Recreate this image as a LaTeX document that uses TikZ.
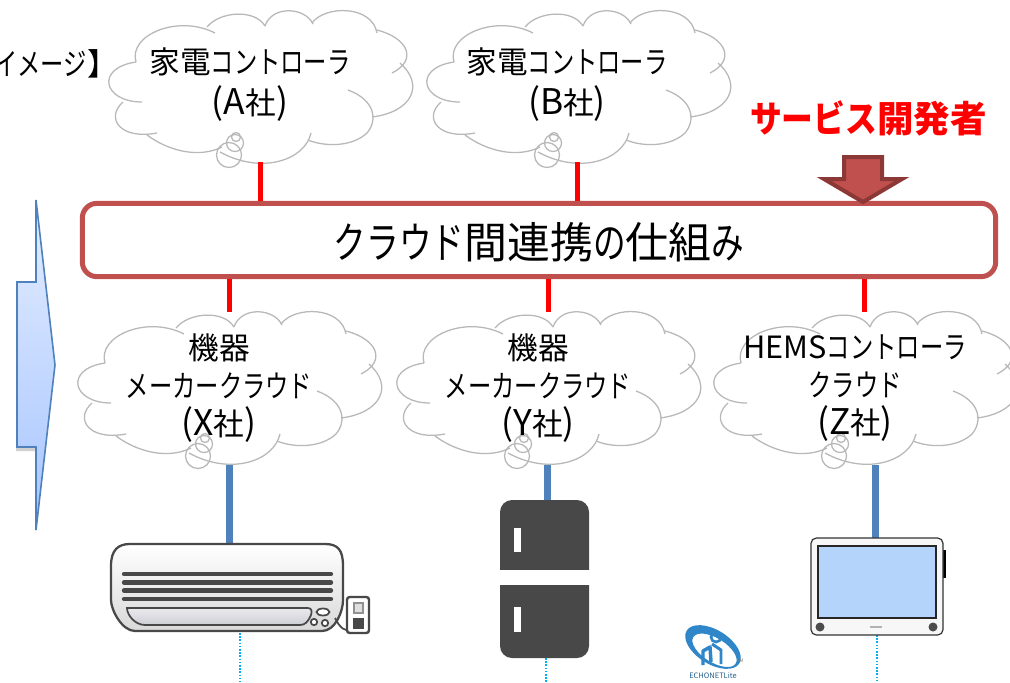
\documentclass[tikz,border=0pt]{standalone}
\usepackage{fontspec}
\setmainfont{Noto Sans CJK JP}
\newfontfamily\kn[FakeStretch=0.76]{Noto Sans CJK JP}
\newfontfamily\knr[FakeStretch=0.87]{Noto Sans CJK JP}
\newcommand{\latn}[1]{{\fontsize{26.5}{28}\selectfont #1}}
\usetikzlibrary{calc}
\definecolor{boxred}{HTML}{C0504D}
\definecolor{darkred}{HTML}{8C3836}
\definecolor{linkblue}{HTML}{4F81BD}
\definecolor{cloudgrey}{HTML}{B8B8B8}
\definecolor{dotblue}{HTML}{00B0F0}
\definecolor{appdark}{HTML}{484848}
\definecolor{logoblue}{HTML}{2F86C8}
\definecolor{arrowtop}{HTML}{E4EDFF}
\definecolor{arrowbot}{HTML}{A6C5FF}
\definecolor{screenblue}{HTML}{B4D4FC}
\tikzset{
  cloudline/.style={draw=cloudgrey,line width=0.95pt,fill=none},
  redlink/.style={draw=red,line width=3.75pt},
  bluelink/.style={draw=linkblue,line width=5.25pt},
  dotlink/.style={draw=dotblue,line width=1.2pt,dash pattern=on 1.2pt off 1.2pt},
  ctext/.style={font=\fontsize{23}{30.75}\selectfont,align=center,text=black,inner sep=0pt},
  ltext/.style={font=\fontsize{23}{28.5}\selectfont,align=center,text=black,inner sep=0pt},
  appline/.style={draw=appdark,line width=1.7pt},
  cloudshape/.pic={
    \path[fill=white] (136,62) .. controls (150,30) and (250,0) .. (313,24) .. controls (370,5) and (420,60) .. (412,95)
      .. controls (410,120) and (380,130) .. (371,120) .. controls (350,150) and (300,170) .. (260,162)
      .. controls (220,165) and (170,150) .. (150,134) .. controls (110,130) and (115,105) .. (122,100)
      .. controls (100,90) and (105,65) .. (136,62) -- cycle;
    \path[cloudline] (136,62) .. controls (128,35) and (178,14) .. (215,33);
    \path[cloudline] (207,27) .. controls (220,11) and (255,9) .. (265,26);
    \path[cloudline] (265,26) .. controls (272,5) and (305,7) .. (313,24);
    \path[cloudline] (312,23) .. controls (325,5) and (372,5) .. (377,33);
    \path[cloudline] (377,30) .. controls (408,38) and (418,60) .. (392,73);
    \path[cloudline] (400,63) .. controls (425,85) and (412,112) .. (372,117);
    \path[cloudline] (348,90) .. controls (375,100) and (378,120) .. (367,133) .. controls (352,147) and (325,147) .. (308,140);
    \path[cloudline] (311,133) .. controls (305,160) and (262,175) .. (220,152);
    \path[cloudline] (147,135) .. controls (170,152) and (200,158) .. (222,147);
    \path[cloudline] (157,133) .. controls (120,140) and (105,118) .. (123,102);
    \path[cloudline] (142,102) .. controls (103,102) and (95,68) .. (136,62);
    \path[cloudline] (229,155) circle[radius=12.5];
    \path[cloudline] (235,143) circle[radius=8.5];
    \path[cloudline] (236,137) circle[radius=4.5];
  }
}
\begin{document}
\begin{tikzpicture}[x=0.75pt,y=-0.75pt]
\useasboundingbox (0,0) rectangle (1010,682);
\fill[white] (0,0) rectangle (1010,682);

% left block arrow
\fill[black,opacity=0.18]
  (35,204) -- (54,369) -- (35,534) -- (35,451) -- (16,451) -- (16,286) -- (35,286) -- cycle;
\shade[top color=arrowtop,bottom color=arrowbot,draw=none]
  (36,200) -- (55,365) -- (36,530) -- (36,447) -- (17,447) -- (17,282) -- (36,282) -- cycle;
\draw[draw=linkblue,line width=1.2pt,line join=miter]
  (36,200) -- (55,365) -- (36,530) -- (36,447) -- (17,447) -- (17,282) -- (36,282) -- cycle;

\node[ctext,anchor=east] (caption) at (118,64) {{\kn イメージ}】};

% clouds
\pic at (0,0) {cloudshape};
\pic at (318,0) {cloudshape};
\pic at (-31,301) {cloudshape};
\pic at (288,301) {cloudshape};
\pic at (605,301) {cloudshape};

\node[ctext] (cA) at (250,85) {家電{\kn コントローラ}\\\latn{(A}社\latn{)}};
\node[ctext] (cB) at (567,85) {家電{\kn コントローラ}\\\latn{(B}社\latn{)}};
\node[ltext] (cX) at (219,388) {機器\\{\kn メーカークラウド}\\\latn{(X}社\latn{)}};
\node[ltext] (cY) at (538,388) {機器\\{\kn メーカークラウド}\\\latn{(Y}社\latn{)}};
\node[ltext] (cZ) at (855,388) {HEMS{\kn コントローラ}\\{\kn クラウド}\\\latn{(Z}社\latn{)}};

% central box
\node[draw=boxred,line width=3.75pt,rounded corners=11pt,fill=white,minimum width=685pt,minimum height=55pt,inner sep=0pt] (hub) at (539,240) {};
\node[font=\fontsize{32.2}{36}\selectfont,inner sep=0pt] (hublabel) at (539,242.5) {{\kn クラウド}間連携{\kn の}仕組{\kn み}};

% appliances anchors
\coordinate (ac) at (229,544);
\coordinate (fr) at (547,500);
\coordinate (tv) at (875,538);
\coordinate (upA) at (260,162);
\coordinate (upB) at (577,162);
\coordinate (dnX) at (229,312);
\coordinate (dnY) at (548,312);
\coordinate (dnZ) at (864,312);
\coordinate (lowX) at (229,465);
\coordinate (lowY) at (547,465);
\coordinate (lowZ) at (875,465);

\draw[redlink] (upA) -- (upA |- hub.north);
\draw[redlink] (upB) -- (upB |- hub.north);
\draw[redlink] (dnX) -- (dnX |- hub.south);
\draw[redlink] (dnY) -- (dnY |- hub.south);
\draw[redlink] (dnZ) -- (dnZ |- hub.south);
\draw[bluelink] (lowX) -- (ac);
\draw[bluelink] (lowY) -- (fr);
\draw[bluelink] (lowZ) -- (tv);

% developer
\node[font=\bfseries\fontsize{27.4}{30}\selectfont,text=red,inner sep=0pt] (dev) at (868.5,118) {{\knr\bfseries サービス}開発者};
\path[fill=boxred,draw=darkred,line width=3pt,line join=miter]
  (844,157) -- (882,157) -- (882,179) -- (902,179) -- (863,202) -- (824,179) -- (844,179) -- cycle;

% dotted lines
\coordinate (dA) at (240,633); \coordinate (dA2) at (240,682);
\coordinate (dB) at (546,658); \coordinate (dB2) at (546,682);
\coordinate (dC) at (877,635); \coordinate (dC2) at (877,682);
\draw[dotlink] (dA) -- (dA2);
\draw[dotlink] (dB) -- (dB2);
\draw[dotlink] (dC) -- (dC2);

% air conditioner
\path[appline,top color=white,middle color=white,bottom color=gray!30]
  (111,566) .. controls (111,550) and (118,544) .. (130,544) -- (325,544) .. controls (338,544) and (343,550) .. (343,566)
  -- (343,600) .. controls (343,612) and (335,631) .. (322,631) -- (135,631) .. controls (122,631) and (111,610) .. (111,600) -- cycle;
\foreach \yy in {574,582.5,590.5,599}
  \draw[line width=3.2pt,draw=appdark,line cap=round] (124,\yy) -- (331,\yy);
\path[draw=appdark,line width=1.3pt,top color=blue!8!gray!15,bottom color=blue!10!gray!35]
  (127,608) -- (308,608) .. controls (312,608) and (312,612) .. (311,615) .. controls (308,622) and (305,625) .. (300,625)
  -- (145,625) .. controls (135,625) and (127,615) .. (127,608) -- cycle;
\draw[draw=appdark,line width=1.3pt,fill=white] (323,612) ellipse[x radius=6.5,y radius=3.5];
\draw[draw=appdark,line width=1.3pt,fill=white] (314,622) circle[radius=3.2];
\draw[draw=appdark,line width=1.3pt,fill=white] (325,623) circle[radius=3.2];
\draw[draw=appdark,line width=1.3pt] (335,618) .. controls (340,628) and (345,632) .. (352,630);
\draw[draw=appdark,line width=1.8pt,fill=white,rounded corners=2pt] (347,597) rectangle (369,633);
\draw[draw=appdark!60,line width=0.8pt,fill=gray!25] (354,603) rectangle (363,613);
\fill[appdark] (353,618) rectangle (364,629);

% fridge
\path[fill=appdark,rounded corners=9pt] (500,585) -- (500,500) -- (589,500) -- (589,585) -- cycle;
\fill[white] (498,573) rectangle (591,585);
\fill[appdark] (500,560) rectangle (589,573);
\path[fill=appdark,rounded corners=9pt] (500,570) -- (500,658) -- (589,658) -- (589,570) -- cycle;
\fill[white] (498,570) rectangle (591,585);
\fill[appdark] (500,585) rectangle (589,600);
\fill[white] (514,528) rectangle (521,552);
\fill[white] (514,607) rectangle (521,632);

% tablet
\fill[black] (942,550) rectangle (945.5,578);
\path[draw=black!80,line width=0.9pt,fill=gray!6,rounded corners=4pt] (811,538) rectangle (943,635);
\path[draw=black!85,line width=1.5pt,fill=screenblue] (818,546) rectangle (936,618);
\fill[black!70] (820,627) circle[radius=4.5];
\fill[black!70] (933,627) circle[radius=4.5];
\fill[gray!60] (870,626) rectangle (882,628);

% logo
\begin{scope}[rotate around={-32:(713,647)}]
\fill[logoblue,even odd rule] (713,647) ellipse[x radius=31,y radius=17] (716,649) ellipse[x radius=25,y radius=12];
\end{scope}
\draw[draw=logoblue,line width=2.6pt,line join=round] (703,665) -- (703,651) -- (710,647) -- (711,662);
\draw[draw=logoblue,line width=2.2pt] (721,664) -- (721,650) -- (712,644);
\draw[draw=logoblue,line width=2pt] (716,637) circle[radius=5];
\node[font=\fontsize{3.5}{4}\selectfont,text=gray,inner sep=0pt] (tm) at (740,661) {TM};
\node[font=\fontsize{5.6}{6}\selectfont,text=logoblue!70!black,inner sep=0pt] (logo) at (713,676) {ECHONETLite};
\end{tikzpicture}
\end{document}
